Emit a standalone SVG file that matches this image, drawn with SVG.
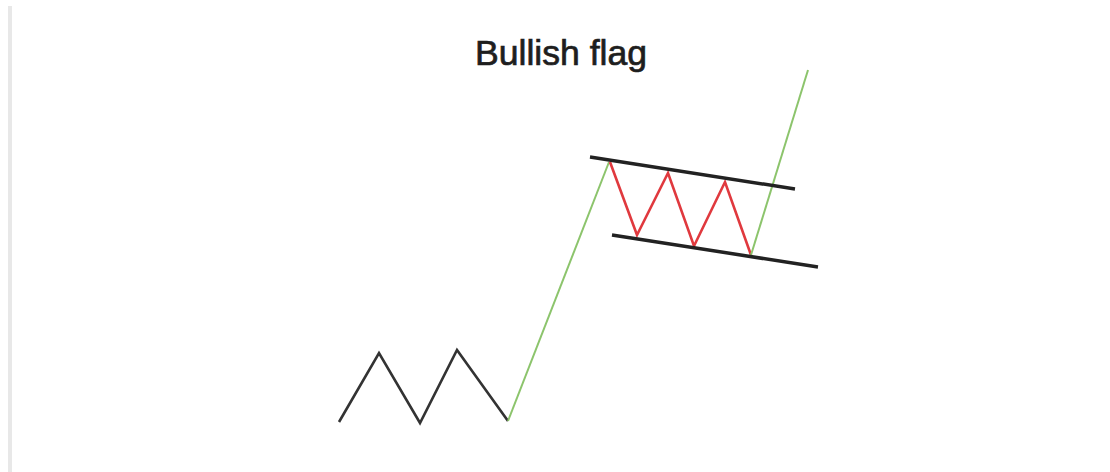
<svg xmlns="http://www.w3.org/2000/svg" width="1110" height="472" viewBox="0 0 1110 472">
<style>
.title{font-family:"Liberation Sans",Arial,sans-serif;font-size:35px;fill:#1e1e1e;stroke:#1e1e1e;stroke-width:0.7}
.base{fill:none;stroke:#333;stroke-width:2.6;stroke-linejoin:miter}
.up{fill:none;stroke:#8cc46c;stroke-width:2}
.flag{fill:none;stroke:#e0393e;stroke-width:2.6}
.chan{fill:none;stroke:#222;stroke-width:3.5}
</style>
<rect x="0" y="0" width="1110" height="472" fill="#ffffff"/>
<rect x="8" y="6" width="4" height="466" fill="#e8e8e8"/>
<g id="title"><text class="title" x="475" y="65" textLength="172" lengthAdjust="spacingAndGlyphs">Bullish flag</text></g>
<g id="connectors">
<polyline id="consolidation" class="base" points="339,422 379,353 420,423 457,350 508,421"/>
<polyline id="pole" class="up" points="508,421 609,162"/>
<polyline id="flag-waves" class="flag" points="610,162 637,235 668,173 694,246 725,182 751,255"/>
<polyline id="breakout" class="up" points="751,255 808,70"/>
<line id="upper-channel" class="chan" x1="590" y1="157" x2="795" y2="189"/>
<line id="lower-channel" class="chan" x1="612" y1="235" x2="818" y2="267"/>
</g>
</svg>
